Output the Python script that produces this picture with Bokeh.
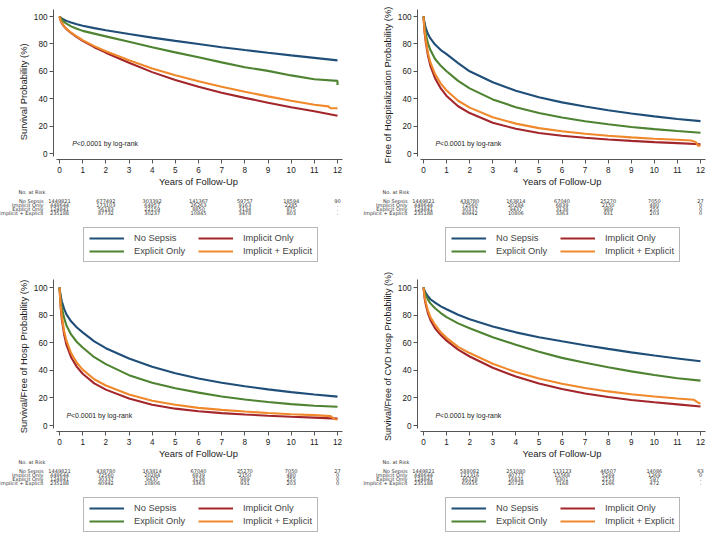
import numpy as np
from bokeh.plotting import figure
from bokeh.models import Range1d, Label, Legend, LegendItem
from bokeh.layouts import row, column
from bokeh.embed import file_html
from bokeh.resources import INLINE
from bokeh.core.properties import value

# ---------------- data ----------------
GROUPS = ["No Sepsis", "Implicit Only", "Explicit Only", "Implicit + Explicit"]
T = [0, 0.05, 0.1, 0.2, 0.3, 0.5, 0.75, 1, 1.5, 2, 3, 4, 5, 6, 7, 8, 9, 10, 11, 12]
RISK_YEARS = [0, 2, 4, 6, 8, 10, 12]
X_TICKS = list(range(0, 13))
Y_TICKS = [0, 20, 40, 60, 80, 100]

# Panel 1: survival
surv_no_sepsis = [100, 99.2, 98.6, 97.6, 96.8, 95.6, 94.3, 93.2, 91.5, 90, 87.2, 84.6, 82.2, 79.9, 77.6, 75.5, 73.5, 71.6, 69.8, 68]
surv_implicit = [100, 97, 95.2, 92.6, 90.8, 88, 85, 82.2, 77.6, 73.6, 66.2, 59.4, 53.6, 48.7, 44.4, 40.6, 37.1, 33.8, 30.8, 27.6]
surv_explicit = [100, 98.8, 97.8, 96, 94.8, 92.8, 91, 89.5, 87.5, 85.5, 81.5, 77.5, 73.8, 70.2, 66.5, 63, 60.3, 57, 54.2, 53]
surv_explicit_end_t = [12]
surv_explicit_end_y = [50]
surv_both = [100, 97, 95.3, 92.8, 91, 88.3, 85.4, 82.8, 78.4, 74.6, 68, 62.1, 57.1, 52.7, 48.7, 45.1, 41.7, 38.5, 35.6]
surv_both_end_t = [11.6, 11.7, 12]
surv_both_end_y = [34.4, 33, 33]

# Panel 2: free of hospitalization
hosp_no_sepsis = [100, 95, 91.5, 87, 84, 79.5, 75.5, 72.5, 66, 60, 52, 45.8, 41, 37.3, 34.3, 31.6, 29.2, 27.1, 25.2, 23.6]
hosp_implicit = [100, 88, 81, 71, 64, 55, 47.5, 42, 34.5, 29.5, 22.5, 18, 15, 13, 11.5, 10.2, 9.2, 8.3, 7.6, 6.8]
hosp_explicit = [100, 92, 87, 80, 75.5, 69, 64, 60, 53, 47.5, 39.5, 33.8, 29.5, 26.3, 23.6, 21.3, 19.4, 17.8, 16.4, 15.2]
hosp_both = [100, 89, 82.5, 73, 66.5, 58, 51, 46, 38.5, 33.5, 26.5, 21.8, 18.5, 16.2, 14.4, 13, 11.8, 10.8, 10]
hosp_both_end_t = [11.6, 11.8, 11.9, 12]
hosp_both_end_y = [9.5, 8.3, 5.5, 6]

# Panel 3: survival / free of hospitalization
combo_no_sepsis = [100, 94, 90, 84.5, 80.5, 75.5, 71, 67.5, 61, 56, 48.5, 42.5, 37.8, 34, 31, 28.4, 26.2, 24.2, 22.5, 20.9]
combo_implicit = [100, 86, 77, 66, 58.5, 49.5, 42.5, 37.5, 30.5, 26, 19.5, 15, 12.2, 10.3, 9, 8, 7.1, 6.3, 5.7, 5]
combo_explicit = [100, 91, 85.5, 78, 72.5, 66, 60.5, 56.5, 49.5, 44.5, 36.5, 31, 27, 23.8, 21, 18.8, 17, 15.5, 14.3, 13.6]
combo_both = [100, 87, 79, 68.5, 61.5, 52.5, 45.5, 40.5, 33.5, 29, 22.5, 18, 15, 12.8, 11.3, 10.1, 9.1, 8.2, 7.5]
combo_both_end_t = [11.7, 11.8, 11.9, 12]
combo_both_end_y = [6.8, 5.5, 4.5, 4.3]

# Panel 4: survival / free of CVD hospitalization
cvd_no_sepsis = [100, 97.5, 96, 93.5, 91.5, 89, 86.3, 84.2, 80.3, 77, 71.8, 67.5, 64, 61, 58.2, 55.5, 53, 50.7, 48.6, 46.5]
cvd_implicit = [100, 92, 87.5, 81, 76.5, 70.5, 65.5, 61.5, 55, 50, 41.8, 35.5, 30.5, 26.5, 23.2, 20.6, 18.5, 16.8, 15.3, 13.8]
cvd_explicit = [100, 96.5, 94.5, 91, 88.5, 85, 81.5, 78.5, 74, 70.5, 64, 58.5, 53.5, 49, 45.5, 42.2, 39.2, 36.6, 34.2, 32.5]
cvd_both = [100, 93, 89, 83, 78.5, 73, 67.5, 63.5, 57, 52.5, 44.7, 38.7, 34, 30.3, 27.2, 24.7, 22.7, 21, 19.6]
cvd_both_end_t = [11.7, 11.9, 12]
cvd_both_end_y = [18.7, 16.5, 16]

# numbers at risk (None = missing, shown as ".")
risk_surv = [
    [1449821, 677492, 303392, 141367, 59757, 18594, 90],
    [448644, 173103, 64957, 26263, 9163, 2285, None],
    [124841, 56183, 22159, 8850, 3134, 875, None],
    [235188, 87732, 30237, 10845, 3478, 803, None],
]
risk_hosp = [
    [1449821, 438780, 163814, 67040, 25270, 7050, 27],
    [448644, 72560, 20284, 6839, 2150, 480, 0],
    [124841, 30337, 9437, 3138, 989, 255, 0],
    [235188, 40942, 10806, 3363, 931, 203, 0],
]
risk_combo = [
    [1449821, 438780, 163814, 67040, 25270, 7050, 27],
    [448644, 72560, 20284, 6839, 2150, 480, 0],
    [124841, 30337, 9437, 3138, 989, 255, 0],
    [235188, 40942, 10806, 3363, 931, 203, 0],
]
risk_cvd = [
    [1449821, 588082, 251080, 113123, 46507, 14086, 63],
    [448644, 121316, 40777, 15568, 5269, 1269, 0],
    [124841, 46328, 16831, 6301, 2153, 597, None],
    [235188, 65935, 20728, 7168, 2166, 472, None],
]

# ---------------- styling / layout ----------------
COLORS = ["#1F4E79", "#A3262B", "#4E8331", "#F0892B"]
FONT = "Liberation Sans"
TABLE_FONT = "DejaVu Sans"


def curve(y, end_t=None, end_y=None):
    t = list(T[:len(y)])
    yy = list(y)
    if end_t:
        t += end_t
        yy += end_y
    return t, yy


def make_panel(W, H, x0_px, x12_px, y100_px, y0_px, ylabel, series, risk, p_x, title_y, leg_x,
               ytitle_size="9.4px"):
    ppy = (x12_px - x0_px) / 12.0          # pixels per year
    ppp = (y0_px - y100_px) / 100.0        # pixels per percent
    to_y = lambda px: (y0_px - px) / ppp   # panel pixel row -> data y

    p = figure(width=W, height=H,
               x_range=Range1d(-x0_px / ppy, (W - x0_px) / ppy),
               y_range=Range1d(to_y(H), to_y(0)),
               output_backend="svg", toolbar_location=None, min_border=0, title=None)
    p.grid.visible = False
    p.outline_line_color = None

    yaxis_x = -6 / ppy
    xaxis_y = -6 / ppp
    p.xaxis.fixed_location = xaxis_y
    p.yaxis.fixed_location = yaxis_x
    p.xaxis.bounds = (-0.13, 12.2)
    p.yaxis.bounds = (-2.5, to_y(9))
    p.xaxis.ticker = X_TICKS
    p.yaxis.ticker = Y_TICKS
    for ax in (p.xaxis[0], p.yaxis[0]):
        ax.axis_line_color = "#555555"
        ax.major_tick_line_color = "#555555"
        ax.minor_tick_line_color = None
        ax.major_tick_in = 0
        ax.major_tick_out = 4
        ax.major_label_text_font = FONT
        ax.major_label_text_font_size = "8.2px"
        ax.major_label_text_color = "#1a1a1a"
    p.xaxis.major_label_standoff = 3
    p.yaxis.major_label_standoff = 2

    # axis titles
    p.add_layout(Label(x=6, y=xaxis_y, y_offset=-21.5, text="Years of Follow-Up", text_font=FONT,
                       text_font_size="9.4px", text_align="center", text_baseline="middle",
                       text_color="#1a1a1a"))
    p.add_layout(Label(x=yaxis_x, x_offset=-30, y=title_y, text=ylabel, text_font=FONT,
                       text_font_size=ytitle_size, text_align="center", text_baseline="middle",
                       angle=90, angle_units="deg", text_color="#1a1a1a"))

    renderers = []
    for (t, y), c in zip(series, COLORS):
        renderers.append(p.line(t, y, line_color=c, line_width=2.1))

    p.add_layout(Label(x=p_x, y=7.3, text="P", text_font=FONT, text_font_size="6.9px",
                       text_font_style="italic", text_baseline="middle", text_color="#222222"))
    p.add_layout(Label(x=p_x, y=7.3, x_offset=4.6, text="<0.0001 by log-rank", text_font=FONT,
                       text_font_size="6.9px", text_baseline="middle", text_color="#222222"))

    # numbers at risk table
    row0_px, step_px = 200.7, 3.85
    row_y = [to_y(row0_px + i * step_px) for i in range(len(risk))]
    xs, ys, txt = [], [], []
    for i, r in enumerate(risk):
        for yr, v in zip(RISK_YEARS, r):
            xs.append(yr)
            ys.append(row_y[i])
            txt.append("." if v is None else str(v))
    p.text(x=xs, y=ys, text=txt, text_font=value(TABLE_FONT), text_font_size="5px",
           text_align="center", text_baseline="middle", text_color="#333333")
    p.text(x=[0] * len(GROUPS), y=row_y, text=GROUPS, x_offset=-16,
           text_font=value(TABLE_FONT), text_font_size="5px",
           text_align="right", text_baseline="middle", text_color="#333333")
    p.text(x=[0], y=[to_y(191.5)], text=["No. at Risk"], x_offset=-41,
           text_font=value(TABLE_FONT), text_font_size="5px",
           text_align="left", text_baseline="middle", text_color="#333333")

    order = [0, 2, 1, 3]
    legend = Legend(items=[LegendItem(label=GROUPS[k], renderers=[renderers[k]]) for k in order],
                    nrows=2, location=(leg_x, H - 262),
                    label_text_font=FONT, label_text_font_size="9.3px",
                    glyph_width=35, glyph_height=10, label_height=10, label_standoff=10,
                    label_width=61, spacing=3, padding=5, margin=0,
                    border_line_color="#707070", border_line_width=1,
                    background_fill_alpha=1.0)
    p.add_layout(legend)
    return p


panel1 = make_panel(354, 270, 59, 337, 16, 153, "Survival Probability (%)", [
    curve(surv_no_sepsis), curve(surv_implicit),
    curve(surv_explicit, surv_explicit_end_t, surv_explicit_end_y),
    curve(surv_both, surv_both_end_t, surv_both_end_y)], risk_surv, 0.55, 45, 83)
panel2 = make_panel(355, 270, 69, 346, 16, 153, "Free of Hospitalization Probability (%)", [
    curve(hosp_no_sepsis), curve(hosp_implicit), curve(hosp_explicit),
    curve(hosp_both, hosp_both_end_t, hosp_both_end_y)], risk_hosp, 0.52, 50, 91)
panel3 = make_panel(354, 264, 59, 337, 17, 155, "Survival/Free of Hosp Probability (%)", [
    curve(combo_no_sepsis), curve(combo_implicit), curve(combo_explicit),
    curve(combo_both, combo_both_end_t, combo_both_end_y)], risk_combo, 0.3, 50, 83)
panel4 = make_panel(355, 264, 69, 346, 17, 155, "Survival/Free of CVD Hosp Probability (%)", [
    curve(cvd_no_sepsis), curve(cvd_implicit), curve(cvd_explicit),
    curve(cvd_both, cvd_both_end_t, cvd_both_end_y)], risk_cvd, 0.52, 50, 91, "9px")

layout = column(row(panel1, panel2), row(panel3, panel4))

with open("out.html", "w") as f:
    f.write(file_html(layout, INLINE))
